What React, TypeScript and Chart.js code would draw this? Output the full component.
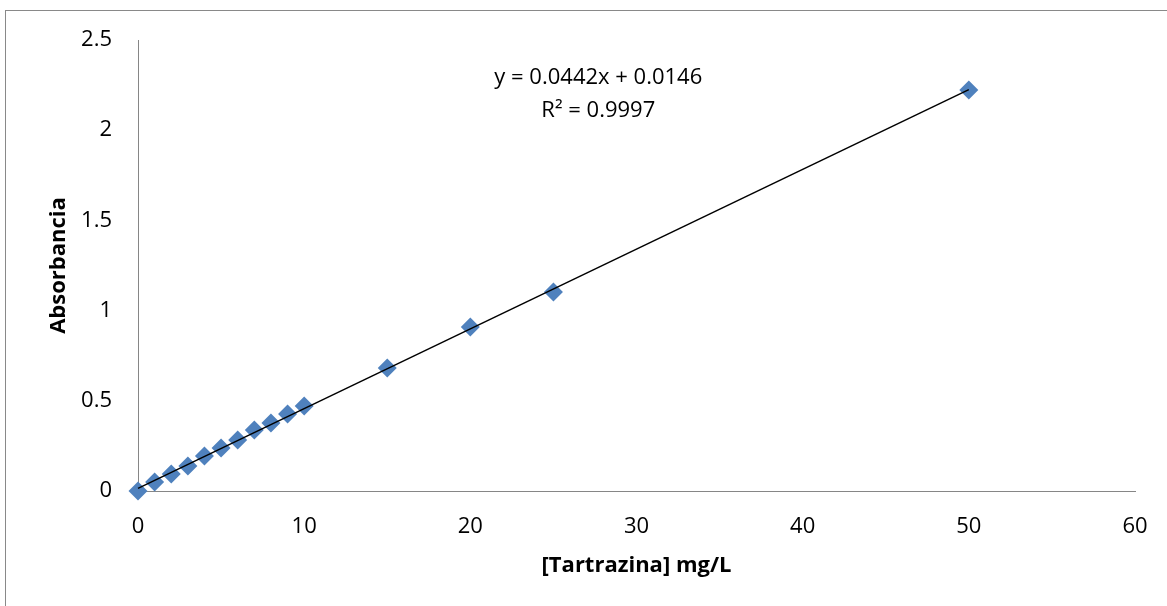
import React, { useEffect, useRef } from "react";
import { Chart, registerables } from "chart.js";

Chart.register(...registerables);

const concentrations = [0, 1, 2, 3, 4, 5, 6, 7, 8, 9, 10, 15, 20, 25, 50];
const absorbances = [0, 0.05, 0.094, 0.139, 0.194, 0.238, 0.283, 0.338, 0.377, 0.427, 0.471, 0.682, 0.909, 1.103, 2.223];
const slope = 0.0442;
const intercept = 0.0146;
const trendX = [0, 50];
const equationLines = ["y = 0.0442x + 0.0146", "R² = 0.9997"];
const xTitle = "[Tartrazina] mg/L";
const yTitle = "Absorbancia";

const FONT = "'Open Sans', 'Liberation Sans', sans-serif";

export default function App() {
  const ref = useRef<HTMLCanvasElement | null>(null);

  useEffect(() => {
    if (!ref.current) return;
    const framePlugin = {
      id: "frame",
      beforeDraw(chart: any) {
        const ctx = chart.ctx;
        ctx.save();
        ctx.fillStyle = "#ffffff";
        ctx.fillRect(0, 0, chart.width, chart.height);
        ctx.strokeStyle = "#898989";
        ctx.lineWidth = 1;
        ctx.strokeRect(5.5, 10.5, 1300, 700);
        ctx.restore();
      },
    };
    const eqPlugin = {
      id: "equation",
      afterDatasetsDraw(chart: any) {
        const ctx = chart.ctx;
        const xs = chart.scales.x;
        const ys = chart.scales.y;
        ctx.save();
        ctx.fillStyle = "#000000";
        ctx.font = `22px ${FONT}`;
        ctx.textAlign = "center";
        ctx.textBaseline = "middle";
        ctx.fillText(equationLines[0], xs.getPixelForValue(27.7), ys.getPixelForValue(2.29));
        ctx.fillText(equationLines[1], xs.getPixelForValue(27.7), ys.getPixelForValue(2.11));
        ctx.restore();
      },
    };
    const chart = new Chart(ref.current, {
      type: "scatter",
      data: {
        datasets: [
          {
            label: "Lineal",
            data: trendX.map((x) => ({ x, y: slope * x + intercept })),
            showLine: true,
            borderColor: "#000000",
            borderWidth: 1.5,
            pointRadius: 0,
            fill: false,
            clip: false,
          },
          {
            label: "Absorbancia",
            data: concentrations.map((x, i) => ({ x, y: absorbances[i] })),
            pointStyle: "rectRot",
            pointRadius: 9.5,
            backgroundColor: "#4F81BD",
            borderColor: "#4F81BD",
            borderWidth: 0,
            clip: false,
          },
        ],
      },
      options: {
        responsive: false,
        animation: false,
        layout: { padding: { left: 0, top: 40, right: 32, bottom: 0 } },
        plugins: { legend: { display: false }, tooltip: { enabled: false } },
        scales: {
          x: {
            type: "linear",
            min: 0,
            max: 60,
            ticks: { stepSize: 10, color: "#000000", padding: 23, font: { family: FONT, size: 22 } },
            grid: { display: false, drawTicks: false },
            border: { display: true, color: "#868686", width: 1 },
            title: {
              display: true,
              text: xTitle,
              color: "#000000",
              font: { family: FONT, size: 22, weight: "bold" },
              padding: { top: 0, bottom: 27 },
            },
            afterFit(scale: any) {
              scale.height = 115;
              scale.paddingRight = 0;
              scale.paddingLeft = 0;
            },
          },
          y: {
            type: "linear",
            min: 0,
            max: 2.5,
            ticks: {
              stepSize: 0.5,
              color: "#000000",
              padding: 26,
              font: { family: FONT, size: 22 },
              callback: (v: any) => String(v),
            },
            grid: { display: false, drawTicks: false },
            border: { display: true, color: "#868686", width: 1 },
            title: {
              display: true,
              text: yTitle,
              color: "#000000",
              font: { family: FONT, size: 22, weight: "bold" },
              padding: { top: 46, bottom: 0 },
            },
            afterFit(scale: any) {
              scale.width = 138;
              scale.paddingTop = 0;
              scale.paddingBottom = 0;
            },
          },
        },
      },
      plugins: [framePlugin, eqPlugin],
    });
    return () => chart.destroy();
  }, []);

  return (
    <div style={{ position: "fixed", left: 0, top: 0, width: 1167, height: 606, background: "#fff" }}>
      <canvas ref={ref} width={1167} height={606} style={{ display: "block" }} />
    </div>
  );
}
